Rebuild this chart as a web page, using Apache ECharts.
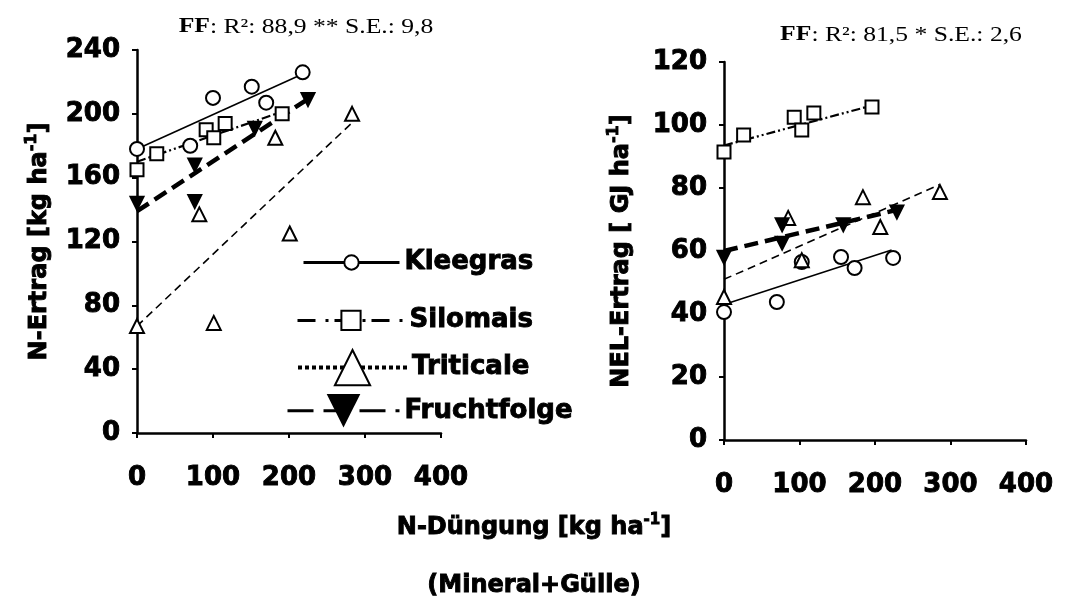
<!DOCTYPE html>
<html>
<head>
<meta charset="utf-8">
<script src="https://cdn.jsdelivr.net/npm/echarts@6/dist/echarts.min.js"></script>
<style>html,body{margin:0;padding:0;background:#fff;}#c{width:1066px;height:610px;}</style>
</head>
<body>
<div id="c"></div>
<script>
// ---- Data ----
const groups = ['Kleegras', 'Silomais', 'Triticale', 'Fruchtfolge'];
const xTicks = [0, 100, 200, 300, 400];

// Left panel: N-Ertrag [kg ha-1]
const nKleegras    = [[0,178],[70,180],[100,210],[151,217],[170,207],[218,226]];
const nSilomais    = [[0,165],[26,175],[91,190],[101,185],[116,194],[191,200]];
const nTriticale   = [[0,67],[101,69],[82,137],[182,185],[201,125],[283,200]];
const nFruchtfolge = [[0,144],[76,168],[76,145],[155,191],[225,209]];
const nLineKleegras    = [[0,178],[218,225]];
const nLineSilomais    = [[0,170],[195,202]];
const nLineTriticale   = [[0,67],[282,194]];
const nLineFruchtfolge = [[0,139],[224,209]];

// Right panel: NEL-Ertrag [GJ ha-1]
const eKleegras    = [[0,40.6],[70,43.8],[103,56.5],[155,58.1],[173,54.6],[224,57.8]];
const eSilomais    = [[0,91.4],[26,96.8],[93,102.5],[103,98.4],[119,103.8],[196,105.7]];
const eTriticale   = [[0,45.4],[85,70.5],[103,57.1],[184,77.1],[207,67.6],[286,78.7]];
const eFruchtfolge = [[0,58],[77,68.3],[77,62.5],[158,68.3],[229,72.4]];
const eLineKleegras    = [[0,43],[222,60.3]];
const eLineSilomais    = [[0,93.5],[193,106]];
const eLineTriticale   = [[0,51],[285,81]];
const eLineFruchtfolge = [[0,60],[228,73]];

const titleLeft  = ['FF', ': R²: 88,9 ** S.E.: 9,8'];
const titleRight = ['FF', ': R²: 81,5 * S.E.: 2,6'];

// ---- Styling ----
const BOLD = 'DejaVu Sans';
const HEAVY = {textBorderColor:'#000', textBorderWidth:0.9};
const symbols = {
  Kleegras:    {symbol:'emptyCircle', size:14, rotate:0},
  Silomais:    {symbol:'emptyRect', size:13, rotate:0},
  Triticale:   {symbol:'emptyTriangle', size:14, rotate:0},
  Fruchtfolge: {symbol:'triangle', size:13, rotate:180}
};
const lineStyles = {
  Kleegras:    {width:1.6, type:'solid'},
  Silomais:    {width:2.2, type:[9,3,2,3,2,3]},
  Triticale:   {width:1.6, type:[8,5]},
  Fruchtfolge: {width:4.5, type:[14,7]}
};

function axisX(gi){
  return {type:'value', gridIndex:gi, min:0, max:400, interval:100,
    axisLine:{show:true, onZero:false, lineStyle:{color:'#000', width:2.5}},
    axisTick:{show:true, length:5, lineStyle:{color:'#000', width:2}},
    splitLine:{show:false},
    axisLabel:Object.assign({color:'#000', fontFamily:BOLD, fontWeight:'bold', fontSize:26, margin:32}, HEAVY)};
}
function axisY(gi, max, interval, name, gap){
  return {type:'value', gridIndex:gi, min:0, max:max, interval:interval,
    axisLine:{show:true, onZero:false, lineStyle:{color:'#000', width:2.5}},
    axisTick:{show:true, length:5, lineStyle:{color:'#000', width:2}},
    splitLine:{show:false},
    axisLabel:Object.assign({color:'#000', fontFamily:BOLD, fontWeight:'bold', fontSize:26, margin:17, padding:[6,0,0,0]}, HEAVY),
    name:name, nameLocation:'middle', nameRotate:90, nameGap:gap,
    nameTextStyle:{color:'#000', fontFamily:BOLD, fontWeight:'bold', fontSize:24,
      rich:{a:Object.assign({fontFamily:BOLD, fontWeight:'bold', fontSize:24, color:'#000', lineHeight:32}, HEAVY),
            s:Object.assign({fontFamily:BOLD, fontWeight:'bold', fontSize:16, color:'#000', verticalAlign:'top', lineHeight:32, padding:[0,0,10,0]}, HEAVY)}}};
}

const lineSets = [
  [nLineKleegras, nLineSilomais, nLineTriticale, nLineFruchtfolge],
  [eLineKleegras, eLineSilomais, eLineTriticale, eLineFruchtfolge]
];
const pointSets = [
  [nKleegras, nSilomais, nTriticale, nFruchtfolge],
  [eKleegras, eSilomais, eTriticale, eFruchtfolge]
];

const series = [];
for (let p = 0; p < 2; p++) {
  groups.forEach((g, i) => {
    series.push({
      name:g, type:'line', xAxisIndex:p, yAxisIndex:p, data:lineSets[p][i],
      symbol:symbols[g].symbol, symbolRotate:symbols[g].rotate, showSymbol:false,
      silent:true, color:'#000', itemStyle:{color:'#000'},
      lineStyle:Object.assign({color:'#000'}, lineStyles[g]), z:2, animation:false
    });
  });
}
for (let p = 0; p < 2; p++) {
  groups.forEach((g, i) => {
    series.push({
      name:g + ' pts', type:'scatter', xAxisIndex:p, yAxisIndex:p, data:pointSets[p][i],
      symbol:symbols[g].symbol, symbolSize:symbols[g].size, symbolRotate:symbols[g].rotate,
      itemStyle:{color:'#000', borderColor:'#000', borderWidth:2, opacity:1},
      z:3, animation:false
    });
  });
}

function legendAt(name, left, top, w, h, ls){
  return {data:[name], left:left, top:top, itemWidth:w, itemHeight:h, padding:0,
    selectedMode:false, lineStyle:ls,
    textStyle:Object.assign({color:'#000', fontFamily:BOLD, fontWeight:'bold', fontSize:26}, HEAVY)};
}

const option = {
  backgroundColor:'#fff',
  animation:false,
  grid:[
    {left:137, top:50, width:304, height:383},
    {left:724, top:62, width:302, height:378}
  ],
  xAxis:[axisX(0), axisX(1)],
  yAxis:[
    axisY(0, 240, 40, '{a|N-Ertrag [kg ha}{s|-1}{a|]}', 81),
    axisY(1, 120, 20, '{a|NEL-Ertrag [ GJ ha}{s|-1}{a|]}', 86)
  ],
  legend:[
    legendAt('Kleegras', 302, 249, 96, 18, {width:3, type:'solid', color:'#000'}),
    legendAt('Silomais', 296, 307, 107, 24, {width:3, type:[18,10,3,6], color:'#000'}),
    legendAt('Triticale', 296, 349, 109, 44, {width:4, type:[4,3], color:'#000'}),
    legendAt('Fruchtfolge', 286, 394, 112, 42, {width:3, type:[26,10], color:'#000'})
  ],
  graphic:[
    {type:'text', x:306, y:27, scaleX:1.22, style:{
      text:'{b|' + titleLeft[0] + '}{r|' + titleLeft[1] + '}', textAlign:'center', textVerticalAlign:'middle',
      rich:{b:{fontFamily:'Liberation Serif', fontWeight:'bold', fontSize:21, fill:'#000'},
            r:{fontFamily:'Liberation Serif', fontSize:21, fill:'#000'}}}},
    {type:'text', x:901, y:35, scaleX:1.22, style:{
      text:'{b|' + titleRight[0] + '}{r|' + titleRight[1] + '}', textAlign:'center', textVerticalAlign:'middle',
      rich:{b:{fontFamily:'Liberation Serif', fontWeight:'bold', fontSize:21, fill:'#000'},
            r:{fontFamily:'Liberation Serif', fontSize:21, fill:'#000'}}}},
    {type:'text', x:534, y:528, style:{
      text:'{a|N-Düngung [kg ha}{s|-1}{a|]}', textAlign:'center', textVerticalAlign:'middle',
      rich:{a:{fontFamily:BOLD, fontWeight:'bold', fontSize:24, fill:'#000', lineHeight:30, stroke:'#000', lineWidth:0.9},
            s:{fontFamily:BOLD, fontWeight:'bold', fontSize:15, fill:'#000', verticalAlign:'top', lineHeight:30, padding:[0,0,10,0], stroke:'#000', lineWidth:0.9}}}},
    {type:'text', x:534, y:586, style:{
      text:'(Mineral+Gülle)', textAlign:'center', textVerticalAlign:'middle',
      fontFamily:BOLD, fontWeight:'bold', fontSize:24, fill:'#000', stroke:'#000', lineWidth:0.9}}
  ],
  series:series
};

const chart = echarts.init(document.getElementById('c'), null, {renderer:'canvas'});
chart.setOption(option);
</script>
</body>
</html>
